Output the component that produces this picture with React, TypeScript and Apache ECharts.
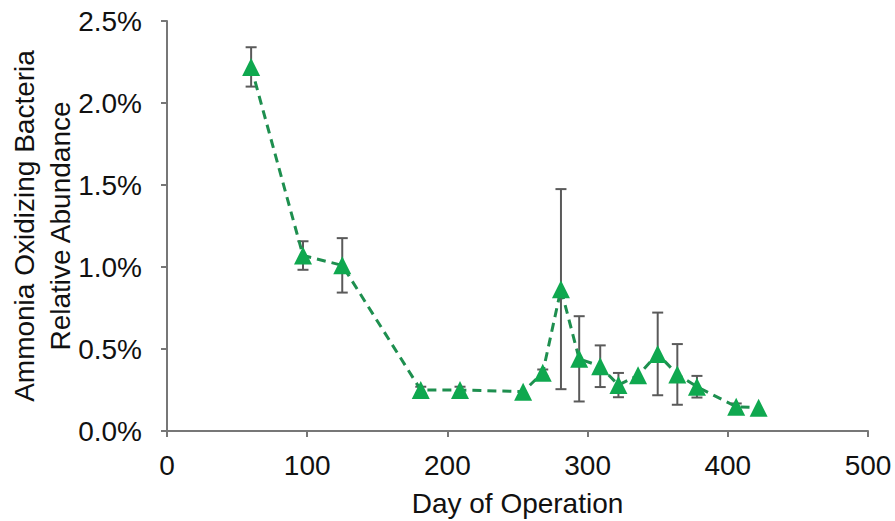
import React, { useEffect, useRef } from "react";
import * as echarts from "echarts";

const days = [60, 97, 125, 181, 209, 254, 268, 281, 294, 309, 322, 336, 350, 364, 378, 406, 422];
const abundance = [2.22, 1.07, 1.01, 0.25, 0.25, 0.24, 0.355, 0.865, 0.44, 0.395, 0.28, 0.34, 0.47, 0.345, 0.27, 0.148, 0.142];
const errors = [0.12, 0.087, 0.166, 0.02, 0.02, 0, 0.02, 0.61, 0.26, 0.127, 0.074, 0, 0.252, 0.185, 0.066, 0.02, 0];
const xTicks = [0, 100, 200, 300, 400, 500];
const yTicks = [0, 0.5, 1.0, 1.5, 2.0, 2.5];

const FONT = "Liberation Sans, Arial, sans-serif";

export default function App() {
  const ref = useRef<HTMLDivElement>(null);
  useEffect(() => {
    if (!ref.current) return;
    const chart = echarts.init(ref.current, null, { renderer: "svg" });
    const errData = days.map((d, i) => [d, abundance[i] - errors[i], abundance[i] + errors[i]]);
    chart.setOption({
      animation: false,
      backgroundColor: "#ffffff",
      grid: { left: 167, right: 27, top: 21, bottom: 90, outerBoundsMode: "none", containLabel: false },
      xAxis: {
        type: "value",
        min: xTicks[0],
        max: xTicks[xTicks.length - 1],
        interval: 100,
        name: "Day of Operation",
        nameLocation: "middle",
        nameGap: 58,
        nameMoveOverlap: false,
        nameTextStyle: { fontFamily: FONT, fontSize: 28, color: "#111" },
        axisLine: { show: true, lineStyle: { color: "#777", width: 2 } },
        axisTick: { show: true, length: 6, lineStyle: { color: "#777", width: 2 } },
        axisLabel: { fontFamily: FONT, fontSize: 28, color: "#111", margin: 20 },
        splitLine: { show: false },
      },
      yAxis: {
        type: "value",
        min: yTicks[0],
        max: yTicks[yTicks.length - 1],
        interval: 0.5,
        name: "Ammonia Oxidizing Bacteria\nRelative Abundance",
        nameLocation: "middle",
        nameGap: 89,
        nameMoveOverlap: false,
        nameTextStyle: { fontFamily: FONT, fontSize: 28, color: "#111", lineHeight: 36 },
        axisLine: { show: true, lineStyle: { color: "#777", width: 2 } },
        axisTick: { show: true, length: 6, lineStyle: { color: "#777", width: 2 } },
        axisLabel: {
          fontFamily: FONT,
          fontSize: 28,
          color: "#111",
          margin: 25,
          formatter: (v: number) => v.toFixed(1) + "%",
        },
        splitLine: { show: false },
      },
      series: [
        {
          type: "custom",
          z: 1,
          data: errData,
          renderItem: (params: any, api: any) => {
            const x = api.value(0);
            const lo = api.coord([x, api.value(1)]);
            const hi = api.coord([x, api.value(2)]);
            if (Math.abs(hi[1] - lo[1]) < 0.5) return { type: "group", children: [] };
            const cap = 5.5;
            const style = { stroke: "#5a5a5a", lineWidth: 2 };
            return {
              type: "group",
              children: [
                { type: "line", shape: { x1: lo[0], y1: lo[1], x2: hi[0], y2: hi[1] }, style },
                { type: "line", shape: { x1: lo[0] - cap, y1: lo[1], x2: lo[0] + cap, y2: lo[1] }, style },
                { type: "line", shape: { x1: hi[0] - cap, y1: hi[1], x2: hi[0] + cap, y2: hi[1] }, style },
              ],
            };
          },
        },
        {
          type: "line",
          z: 2,
          data: days.map((d, i) => [d, abundance[i]]),
          symbol: "triangle",
          symbolSize: [18, 18],
          itemStyle: { color: "#0fa84f", borderWidth: 0 },
          lineStyle: { color: "#1e8f4f", width: 3, type: [9, 6] },
        },
      ],
    });
    return () => chart.dispose();
  }, []);
  return <div ref={ref} style={{ width: 895, height: 521, position: "absolute", left: 0, top: 0 }} />;
}
